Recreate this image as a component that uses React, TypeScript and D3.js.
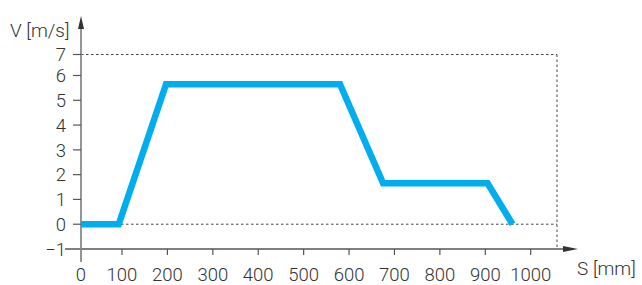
import React from "react";
import * as d3 from "d3";

const sValues = [0, 92, 197, 580, 675, 905, 960];
const vValues = [0, 0, 5.65, 5.65, 1.65, 1.65, 0];
const xTicks = [0, 100, 200, 300, 400, 500, 600, 700, 800, 900, 1000];
const yTicks = [-1, 0, 1, 2, 3, 4, 5, 6, 7];

export default function App() {
  const W = 642, H = 285;
  const x = d3.scaleLinear().domain([0, 100, 1000]).range([81, 122, 530.7]);
  const y = d3.scaleLinear().domain([-1, 6, 7]).range([249, 75.5, 54.5]);
  const pts: [number, number][] = sValues.map((s, i) => [s, vValues[i]]);
  const line = d3.line<[number, number]>().x(d => x(d[0])).y(d => y(d[1]));
  const xEnd = 557;
  const font = "Roboto, 'Liberation Sans', sans-serif";
  const axisCol = "#8a8a8a";
  const textCol = "#333";
  return (
    <svg width={W} height={H} style={{ position: "absolute", left: 0, top: 0 }}>
      {/* dotted guides */}
      <g stroke="#444" strokeWidth={1} strokeDasharray="2.5,2.5" fill="none">
        <line x1={x(0)} x2={xEnd} y1={y(7)} y2={y(7)} />
        <line x1={x(0)} x2={xEnd} y1={y(0)} y2={y(0)} />
        <line x1={xEnd} x2={xEnd} y1={y(7)} y2={y(-1)} />
      </g>
      {/* axes */}
      <line x1={65} x2={570} y1={y(-1)} y2={y(-1)} stroke="#555" strokeWidth={1.3} />
      <line x1={x(0)} x2={x(0)} y1={262} y2={26} stroke={axisCol} strokeWidth={1.8} />
      <path d={`M578,${y(-1)} L563,${y(-1) - 3} L563,${y(-1) + 3} Z`} fill="#333" />
      <path d={`M${x(0)},16 L${x(0) - 3},29 L${x(0) + 3},29 Z`} fill="#333" />
      {/* y ticks */}
      {yTicks.filter(t => t !== -1).map(t => (
        <line key={"yt" + t} x1={x(0) - 8} x2={x(0)} y1={y(t)} y2={y(t)} stroke="#555" strokeWidth={1.2} />
      ))}
      {yTicks.map(t => (
        <text key={"yl" + t} x={66} y={y(t)} dy="0.36em" textAnchor="end" fontFamily={font} fontWeight={300}
          fontSize={18.5} fill={textCol}>{t < 0 ? "\u2212" + Math.abs(t) : t}</text>
      ))}
      {/* x ticks */}
      {xTicks.filter(t => t !== 0).map(t => (
        <line key={"xt" + t} x1={x(t)} x2={x(t)} y1={y(-1)} y2={y(-1) + 6} stroke="#555" strokeWidth={1.2} />
      ))}
      {xTicks.map(t => (
        <text key={"xl" + t} x={x(t)} y={281} textAnchor="middle" fontFamily={font} fontWeight={300}
          fontSize={18.5} fill={textCol}>{t}</text>
      ))}
      {/* data line */}
      <path d={line(pts) || ""} fill="none" stroke="#00adef" strokeWidth={6.5} strokeLinejoin="miter" />
      {/* axis titles */}
      <text x={10} y={37} fontFamily={font} fontWeight={300} fontSize={19} fill={textCol}>V [m/s]</text>
      <text x={577} y={275} fontFamily={font} fontWeight={300} fontSize={19} fill={textCol}>S [mm]</text>
    </svg>
  );
}
